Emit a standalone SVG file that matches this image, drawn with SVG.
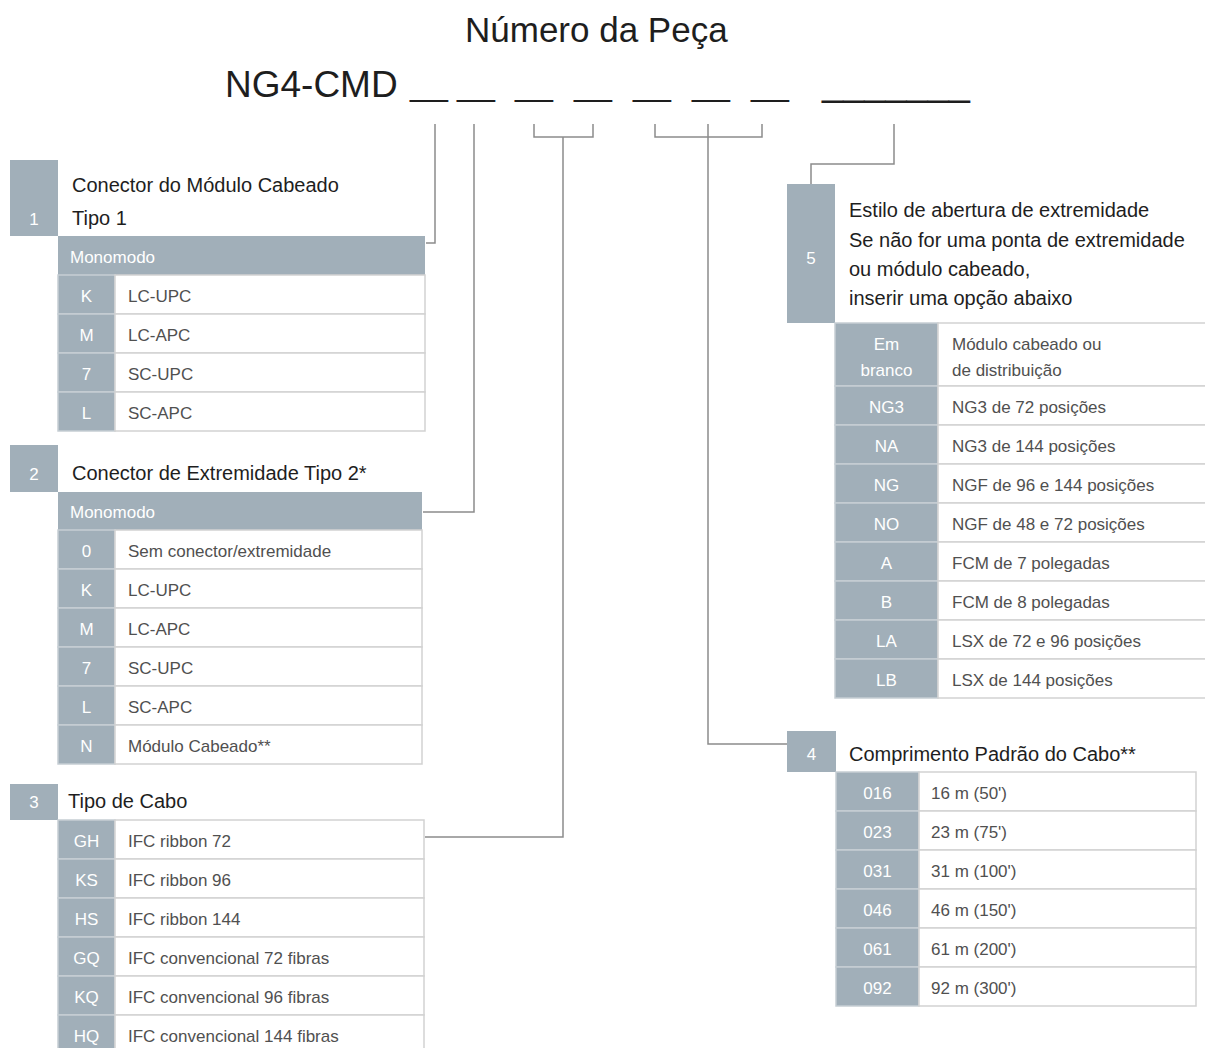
<svg xmlns="http://www.w3.org/2000/svg" width="1205" height="1048" viewBox="0 0 1205 1048">
<style>
text{font-family:"Liberation Sans",Arial,sans-serif}
.h1{font-size:35px;fill:#1e1e1e}
.us{font-size:34px;fill:#1e1e1e}
.ttl{font-size:20px;fill:#1e1e1e}
.num{font-size:17px;fill:#ffffff;text-anchor:middle}
.code{font-size:17px;fill:#ffffff;text-anchor:middle}
.hdr{font-size:17px;fill:#ffffff}
.desc{font-size:17px;fill:#505050}
.g{fill:#a1afb9}
.gc{fill:#a1afb9;stroke:#c6ced4;stroke-width:1.5}
.dc{fill:#ffffff;stroke:#d2d2d2;stroke-width:1.5}
.con{fill:none;stroke:#8c8c8c;stroke-width:1.5}
</style>

<g id="header">
<text class="h1" x="465" y="42">Número da Peça</text>
<text class="h1" x="225" y="97" style="font-size:37px">NG4-CMD</text>
<text class="us" x="410" y="95">__</text>
<text class="us" x="457" y="95">__</text>
<text class="us" x="515" y="95">__</text>
<text class="us" x="574" y="95">__</text>
<text class="us" x="633" y="95">__</text>
<text class="us" x="692" y="95">__</text>
<text class="us" x="751" y="95">__</text>
<text class="us" x="822" y="95" style="font-size:38px">_______</text>
</g>

<g id="connectors">
<path class="con" d="M435 124 V243 H426"/>
<path class="con" d="M474 124 V512 H423"/>
<path class="con" d="M534 124 V137 H593 V124"/>
<path class="con" d="M563 137 V837 H425"/>
<path class="con" d="M655 124 V137 H762 V124"/>
<path class="con" d="M708 124 V744 H787"/>
<path class="con" d="M894 124 V164 H811 V184"/>
</g>

<g id="sec1">
<rect class="g" x="10" y="160" width="48" height="76"/>
<text class="num" x="34" y="225">1</text>
<text class="ttl" x="72" y="192">Conector do Módulo Cabeado</text>
<text class="ttl" x="72" y="225">Tipo 1</text>
<rect class="g" x="58" y="236" width="367" height="39"/>
<text class="hdr" x="70" y="263">Monomodo</text>
<rect class="gc" x="58" y="275" width="57" height="39"/><rect class="dc" x="115" y="275" width="310" height="39"/>
<rect class="gc" x="58" y="314" width="57" height="39"/><rect class="dc" x="115" y="314" width="310" height="39"/>
<rect class="gc" x="58" y="353" width="57" height="39"/><rect class="dc" x="115" y="353" width="310" height="39"/>
<rect class="gc" x="58" y="392" width="57" height="39"/><rect class="dc" x="115" y="392" width="310" height="39"/>
<text class="code" x="86.5" y="302">K</text><text class="desc" x="128" y="302">LC-UPC</text>
<text class="code" x="86.5" y="341">M</text><text class="desc" x="128" y="341">LC-APC</text>
<text class="code" x="86.5" y="380">7</text><text class="desc" x="128" y="380">SC-UPC</text>
<text class="code" x="86.5" y="419">L</text><text class="desc" x="128" y="419">SC-APC</text>
</g>

<g id="sec2">
<rect class="g" x="10" y="445" width="48" height="47"/>
<text class="num" x="34" y="480">2</text>
<text class="ttl" x="72" y="480">Conector de Extremidade Tipo 2*</text>
<rect class="g" x="58" y="492" width="364" height="38"/>
<text class="hdr" x="70" y="518">Monomodo</text>
<rect class="gc" x="58" y="530" width="57" height="39"/><rect class="dc" x="115" y="530" width="307" height="39"/>
<rect class="gc" x="58" y="569" width="57" height="39"/><rect class="dc" x="115" y="569" width="307" height="39"/>
<rect class="gc" x="58" y="608" width="57" height="39"/><rect class="dc" x="115" y="608" width="307" height="39"/>
<rect class="gc" x="58" y="647" width="57" height="39"/><rect class="dc" x="115" y="647" width="307" height="39"/>
<rect class="gc" x="58" y="686" width="57" height="39"/><rect class="dc" x="115" y="686" width="307" height="39"/>
<rect class="gc" x="58" y="725" width="57" height="39"/><rect class="dc" x="115" y="725" width="307" height="39"/>
<text class="code" x="86.5" y="557">0</text><text class="desc" x="128" y="557">Sem conector/extremidade</text>
<text class="code" x="86.5" y="596">K</text><text class="desc" x="128" y="596">LC-UPC</text>
<text class="code" x="86.5" y="635">M</text><text class="desc" x="128" y="635">LC-APC</text>
<text class="code" x="86.5" y="674">7</text><text class="desc" x="128" y="674">SC-UPC</text>
<text class="code" x="86.5" y="713">L</text><text class="desc" x="128" y="713">SC-APC</text>
<text class="code" x="86.5" y="752">N</text><text class="desc" x="128" y="752">Módulo Cabeado**</text>
</g>

<g id="sec3">
<rect class="g" x="10" y="784" width="48" height="36"/>
<text class="num" x="34" y="808">3</text>
<text class="ttl" x="68" y="808">Tipo de Cabo</text>
<rect class="gc" x="58" y="820" width="57" height="39"/><rect class="dc" x="115" y="820" width="309" height="39"/>
<rect class="gc" x="58" y="859" width="57" height="39"/><rect class="dc" x="115" y="859" width="309" height="39"/>
<rect class="gc" x="58" y="898" width="57" height="39"/><rect class="dc" x="115" y="898" width="309" height="39"/>
<rect class="gc" x="58" y="937" width="57" height="39"/><rect class="dc" x="115" y="937" width="309" height="39"/>
<rect class="gc" x="58" y="976" width="57" height="39"/><rect class="dc" x="115" y="976" width="309" height="39"/>
<rect class="gc" x="58" y="1015" width="57" height="39"/><rect class="dc" x="115" y="1015" width="309" height="39"/>
<text class="code" x="86.5" y="847">GH</text><text class="desc" x="128" y="847">IFC ribbon 72</text>
<text class="code" x="86.5" y="886">KS</text><text class="desc" x="128" y="886">IFC ribbon 96</text>
<text class="code" x="86.5" y="925">HS</text><text class="desc" x="128" y="925">IFC ribbon 144</text>
<text class="code" x="86.5" y="964">GQ</text><text class="desc" x="128" y="964">IFC convencional 72 fibras</text>
<text class="code" x="86.5" y="1003">KQ</text><text class="desc" x="128" y="1003">IFC convencional 96 fibras</text>
<text class="code" x="86.5" y="1042">HQ</text><text class="desc" x="128" y="1042">IFC convencional 144 fibras</text>
</g>

<g id="sec5">
<rect class="g" x="787" y="184" width="48" height="139"/>
<text class="num" x="811" y="264">5</text>
<text class="ttl" x="849" y="217">Estilo de abertura de extremidade</text>
<text class="ttl" x="849" y="247">Se não for uma ponta de extremidade</text>
<text class="ttl" x="849" y="276">ou módulo cabeado,</text>
<text class="ttl" x="849" y="305">inserir uma opção abaixo</text>
<rect class="gc" x="835" y="323" width="103" height="63"/><rect class="dc" x="938" y="323" width="270" height="63"/>
<rect class="gc" x="835" y="386" width="103" height="39"/><rect class="dc" x="938" y="386" width="270" height="39"/>
<rect class="gc" x="835" y="425" width="103" height="39"/><rect class="dc" x="938" y="425" width="270" height="39"/>
<rect class="gc" x="835" y="464" width="103" height="39"/><rect class="dc" x="938" y="464" width="270" height="39"/>
<rect class="gc" x="835" y="503" width="103" height="39"/><rect class="dc" x="938" y="503" width="270" height="39"/>
<rect class="gc" x="835" y="542" width="103" height="39"/><rect class="dc" x="938" y="542" width="270" height="39"/>
<rect class="gc" x="835" y="581" width="103" height="39"/><rect class="dc" x="938" y="581" width="270" height="39"/>
<rect class="gc" x="835" y="620" width="103" height="39"/><rect class="dc" x="938" y="620" width="270" height="39"/>
<rect class="gc" x="835" y="659" width="103" height="39"/><rect class="dc" x="938" y="659" width="270" height="39"/>
<text class="code" x="886.5" y="350">Em</text><text class="code" x="886.5" y="376">branco</text>
<text class="desc" x="952" y="350">Módulo cabeado ou</text><text class="desc" x="952" y="376">de distribuição</text>
<text class="code" x="886.5" y="413">NG3</text><text class="desc" x="952" y="413">NG3 de 72 posições</text>
<text class="code" x="886.5" y="452">NA</text><text class="desc" x="952" y="452">NG3 de 144 posições</text>
<text class="code" x="886.5" y="491">NG</text><text class="desc" x="952" y="491">NGF de 96 e 144 posições</text>
<text class="code" x="886.5" y="530">NO</text><text class="desc" x="952" y="530">NGF de 48 e 72 posições</text>
<text class="code" x="886.5" y="569">A</text><text class="desc" x="952" y="569">FCM de 7 polegadas</text>
<text class="code" x="886.5" y="608">B</text><text class="desc" x="952" y="608">FCM de 8 polegadas</text>
<text class="code" x="886.5" y="647">LA</text><text class="desc" x="952" y="647">LSX de 72 e 96 posições</text>
<text class="code" x="886.5" y="686">LB</text><text class="desc" x="952" y="686">LSX de 144 posições</text>
</g>

<g id="sec4">
<rect class="g" x="787" y="731" width="49" height="41"/>
<text class="num" x="811.5" y="760">4</text>
<text class="ttl" x="849" y="761">Comprimento Padrão do Cabo**</text>
<rect class="gc" x="836" y="772" width="83" height="39"/><rect class="dc" x="919" y="772" width="277" height="39"/>
<rect class="gc" x="836" y="811" width="83" height="39"/><rect class="dc" x="919" y="811" width="277" height="39"/>
<rect class="gc" x="836" y="850" width="83" height="39"/><rect class="dc" x="919" y="850" width="277" height="39"/>
<rect class="gc" x="836" y="889" width="83" height="39"/><rect class="dc" x="919" y="889" width="277" height="39"/>
<rect class="gc" x="836" y="928" width="83" height="39"/><rect class="dc" x="919" y="928" width="277" height="39"/>
<rect class="gc" x="836" y="967" width="83" height="39"/><rect class="dc" x="919" y="967" width="277" height="39"/>
<text class="code" x="877.5" y="799">016</text><text class="desc" x="931" y="799">16 m (50')</text>
<text class="code" x="877.5" y="838">023</text><text class="desc" x="931" y="838">23 m (75')</text>
<text class="code" x="877.5" y="877">031</text><text class="desc" x="931" y="877">31 m (100')</text>
<text class="code" x="877.5" y="916">046</text><text class="desc" x="931" y="916">46 m (150')</text>
<text class="code" x="877.5" y="955">061</text><text class="desc" x="931" y="955">61 m (200')</text>
<text class="code" x="877.5" y="994">092</text><text class="desc" x="931" y="994">92 m (300')</text>
</g>
</svg>
